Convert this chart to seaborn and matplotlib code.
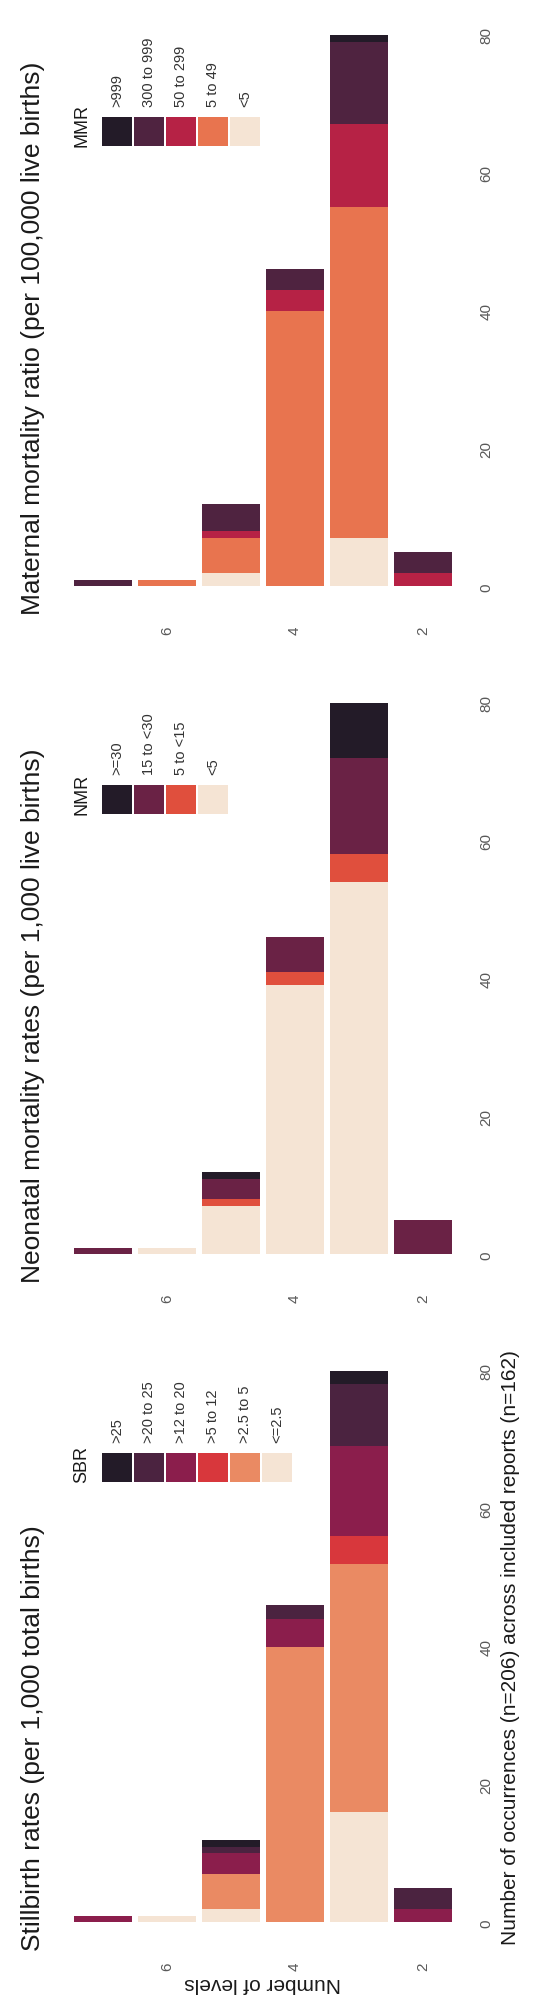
import seaborn as sns
import matplotlib.pyplot as plt
from matplotlib.patches import Rectangle
import pandas as pd

# number of levels in each report
levels = [7, 6, 5, 4, 3, 2]

# stillbirth rate (per 1,000 total births) - rows follow sbr_cats, columns follow levels
sbr_cats = [">25", ">20 to 25", ">12 to 20", ">5 to 12", ">2.5 to 5", "<=2.5"]
sbr_counts = [
    [0, 0, 1, 0, 2, 0],
    [0, 0, 1, 2, 9, 3],
    [1, 0, 3, 4, 13, 2],
    [0, 0, 0, 0, 4, 0],
    [0, 0, 5, 40, 36, 0],
    [0, 1, 2, 0, 16, 0],
]
sbr_colors = ["#231B28", "#4B2340", "#8B1E4C", "#D8373C", "#EA8A63", "#F5E4D4"]

# neonatal mortality rate (per 1,000 live births)
nmr_cats = [">=30", "15 to <30", "5 to <15", "<5"]
nmr_counts = [
    [0, 0, 1, 0, 8, 0],
    [1, 0, 3, 5, 14, 5],
    [0, 0, 1, 2, 4, 0],
    [0, 1, 7, 39, 54, 0],
]
nmr_colors = ["#231B28", "#6A2245", "#E04F3D", "#F5E4D4"]

# maternal mortality ratio (per 100,000 live births)
mmr_cats = [">999", "300 to 999", "50 to 299", "5 to 49", "<5"]
mmr_counts = [
    [0, 0, 0, 0, 1, 0],
    [1, 0, 4, 3, 12, 3],
    [0, 0, 1, 3, 12, 2],
    [0, 1, 5, 40, 48, 0],
    [0, 0, 2, 0, 7, 0],
]
mmr_colors = ["#231B28", "#4F2340", "#B62245", "#E8744F", "#F5E4D4"]

titles = [
    "Stillbirth rates (per 1,000 total births)",
    "Neonatal mortality rates (per 1,000 live births)",
    "Maternal mortality ratio (per 100,000 live births)",
]
legend_titles = ["SBR", "NMR", "MMR"]


def to_frame(cats, counts):
    rows = []
    for cat, row in zip(cats, counts):
        for lvl, n in zip(levels, row):
            rows.append({"level": lvl, "cat": cat, "n": n})
    return pd.DataFrame(rows)


def draw_legend(ax, title, cats, colors):
    x0, w, step = 0.113, 0.072, 0.077
    y0, h = 0.771, 0.048
    ax.text(0.065, y0, title, rotation=90, ha="center", va="bottom",
            fontsize=13, color="#1a1a1a", transform=ax.transAxes)
    for i, (cat, col) in enumerate(zip(cats, colors)):
        ax.add_patch(Rectangle((x0 + i * step, y0), w, h, transform=ax.transAxes,
                               facecolor=col, edgecolor="none", clip_on=False))
        ax.text(x0 + i * step + w / 2, y0 + h + 0.018, cat, rotation=90,
                ha="center", va="bottom", fontsize=10.5, color="#333333",
                transform=ax.transAxes)


sns.set_style("white")
plt.rcParams["font.family"] = ["Liberation Sans", "DejaVu Sans"]

fig = plt.figure(figsize=(5.42, 20.06), dpi=100)
bottoms = [0.0274, 0.3604, 0.6934]
panels = [
    (sbr_cats, sbr_counts, sbr_colors),
    (nmr_cats, nmr_counts, nmr_colors),
    (mmr_cats, mmr_counts, mmr_colors),
]

for i, (cats, counts, colors) in enumerate(panels):
    ax = fig.add_axes([0.1015, bottoms[i], 0.7675, 0.3026])
    df = to_frame(cats, counts)
    sns.histplot(data=df, x="level", weights="n", hue="cat", hue_order=cats,
                 palette=colors, multiple="stack", discrete=True, shrink=0.9,
                 alpha=1, linewidth=0, legend=False, ax=ax)
    ax.set_xlim(7.75, 1.25)
    ax.set_ylim(-4, 84)
    ax.set_xticks([2, 4, 6])
    ax.set_yticks([0, 20, 40, 60, 80])
    ax.yaxis.tick_right()
    ax.tick_params(axis="x", length=0, pad=8, labelsize=11,
                   labelcolor="#595959", labelrotation=90)
    ax.tick_params(axis="y", length=0, pad=6, labelsize=11,
                   labelcolor="#595959", labelrotation=90)
    for lab in ax.get_yticklabels():
        lab.set_va("center")
    for s in ax.spines.values():
        s.set_visible(False)
    ax.set_xlabel("")
    ax.set_ylabel("")
    ax.text(-0.053, 0, titles[i], rotation=90, ha="center", va="bottom",
            fontsize=19, color="#1a1a1a", transform=ax.transAxes)
    draw_legend(ax, legend_titles[i], cats, colors)
    if i == 0:
        ax.text(0.5, -0.053, "Number of levels", rotation=180, ha="center",
                va="center", fontsize=15, color="#1a1a1a", transform=ax.transAxes)
        ax.text(1.094, 0.5, "Number of occurrences (n=206) across included reports (n=162)",
                rotation=90, ha="center", va="center", fontsize=15,
                color="#1a1a1a", transform=ax.transAxes)

fig.savefig("out.png", dpi=100)
